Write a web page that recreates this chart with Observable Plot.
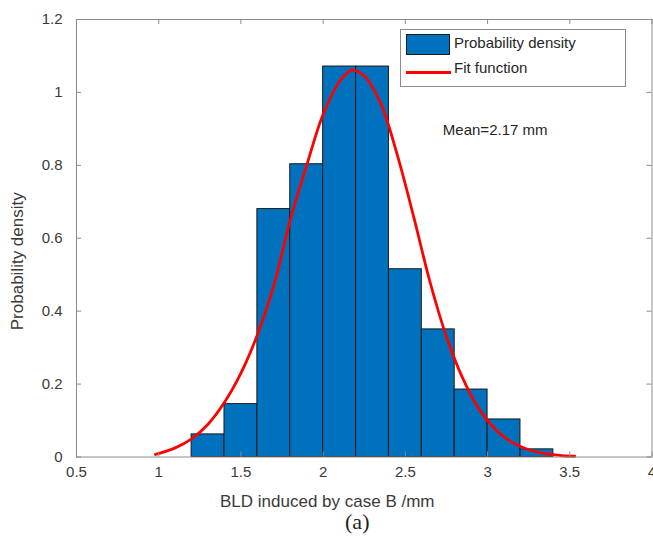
<!DOCTYPE html>
<html>
<head>
<meta charset="utf-8">
<script src="https://cdn.jsdelivr.net/npm/d3@7"></script>
<script src="https://cdn.jsdelivr.net/npm/@observablehq/plot@0.6"></script>
<style>
  html, body { margin: 0; padding: 0; background: #fff; }
  #wrap { position: relative; width: 653px; height: 544px; font-family: "Liberation Sans", Arial, sans-serif; }
  #legend { position: absolute; left: 400px; top: 29px; width: 226px; height: 58px; box-sizing: border-box;
            border: 1px solid #8c8c8c; background: #fff; }
  .lrow { position: absolute; left: 0; height: 22px; width: 100%; }
  .lkey { position: absolute; left: 5px; }
  .ltext { position: absolute; left: 53px; font-size: 15px; color: #262626; white-space: nowrap; }
</style>
</head>
<body>
<div id="wrap"></div>
<script>
// ---- data ----
const binStart = [1.2, 1.4, 1.6, 1.8, 2.0, 2.2, 2.4, 2.6, 2.8, 3.0, 3.2];
const binEnd   = [1.4, 1.6, 1.8, 2.0, 2.2, 2.4, 2.6, 2.8, 3.0, 3.2, 3.4];
const density  = [0.062, 0.145, 0.68, 0.803, 1.071, 1.071, 0.515, 0.350, 0.185, 0.103, 0.021];

const fitX = [0.98, 1.1, 1.2, 1.3, 1.4, 1.5, 1.6, 1.7, 1.8, 1.9, 2.0, 2.1, 2.175, 2.25, 2.35, 2.45, 2.55, 2.65, 2.75, 2.85, 2.95, 3.05, 3.15, 3.25, 3.35, 3.45, 3.53];
const fitY = [0.007, 0.025, 0.05, 0.09, 0.15, 0.23, 0.335, 0.47, 0.65, 0.80, 0.94, 1.03, 1.061, 1.045, 0.97, 0.83, 0.66, 0.48, 0.33, 0.215, 0.13, 0.075, 0.04, 0.02, 0.009, 0.004, 0.002];

const xTicks = [0.5, 1, 1.5, 2, 2.5, 3, 3.5, 4];
const xTickLabels = ["0.5", "1", "1.5", "2", "2.5", "3", "3.5", "4"];
const yTicks = [0, 0.2, 0.4, 0.6, 0.8, 1, 1.2];
const yTickLabels = ["0", "0.2", "0.4", "0.6", "0.8", "1", "1.2"];

const xLabel = "BLD induced by case B /mm";
const yLabel = "Probability density";
const meanText = "Mean=2.17 mm";
const meanPos = {x: 2.728, y: 0.897};
const legendLabels = ["Probability density", "Fit function"];
const caption = "(a)";

// ---- layout ----
const W = 653, H = 544;
const mL = 76, mR = 1.5, mT = 19, mB = 87.5;
const innerW = W - mL - mR, innerH = H - mT - mB;
const tickLen = 5;
const axisColor = "#8c8c8c";
const textColor = "#3a3a3a";
const barColor = "#0072BD";

const bins = binStart.map((s, i) => ({x1: s, x2: binEnd[i], y: density[i]}));
const fit = fitX.map((x, i) => ({x, y: fitY[i]}));

const chart = Plot.plot({
  width: W, height: H,
  marginLeft: mL, marginRight: mR, marginTop: mT, marginBottom: mB,
  style: {fontFamily: "'Liberation Sans', Arial, sans-serif", fontSize: "15px", color: textColor, background: "#fff"},
  x: {domain: [0.5, 4]},
  y: {domain: [0, 1.2]},
  marks: [
    Plot.rectY(bins, {x1: "x1", x2: "x2", y: "y", fill: barColor, stroke: "#1a1a1a", strokeWidth: 1}),
    Plot.line(fit, {x: "x", y: "y", stroke: "#ff0000", strokeWidth: 2.8, curve: "catmull-rom"}),
    Plot.frame({stroke: axisColor, strokeWidth: 1}),
    // inward ticks on all four sides
    Plot.tickX(xTicks, {x: d => d, stroke: axisColor, insetTop: innerH - tickLen}),
    Plot.tickX(xTicks, {x: d => d, stroke: axisColor, insetBottom: innerH - tickLen}),
    Plot.tickY(yTicks, {y: d => d, stroke: axisColor, insetRight: innerW - tickLen}),
    Plot.tickY(yTicks, {y: d => d, stroke: axisColor, insetLeft: innerW - tickLen}),
    Plot.axisX({ticks: xTicks, tickFormat: (d, i) => xTickLabels[i], tickSize: 0, tickPadding: 9, label: null, fontSize: 15, fill: textColor}),
    Plot.axisY({ticks: yTicks, tickFormat: (d, i) => yTickLabels[i], tickSize: 0, tickPadding: 14, label: null, fontSize: 15, fill: textColor}),
    Plot.text([xLabel], {frameAnchor: "bottom", lineAnchor: "middle", textAnchor: "middle", dx: -37, dy: 45, fontSize: 17, fill: textColor, text: d => d}),
    Plot.text([yLabel], {frameAnchor: "left", lineAnchor: "middle", textAnchor: "middle", rotate: -90, dx: -59, dy: 23, fontSize: 17, fill: textColor, text: d => d}),
    Plot.text([meanPos], {x: "x", y: "y", text: () => meanText, textAnchor: "start", fontSize: 15, fill: "#262626"}),
    Plot.text([caption], {frameAnchor: "bottom", lineAnchor: "middle", textAnchor: "middle", dx: -7, dy: 65, fontSize: 22, fontFamily: "'Liberation Serif', 'Times New Roman', serif", fill: "#222", text: d => d})
  ]
});

const wrap = document.getElementById("wrap");
wrap.appendChild(chart);

// legend overlay
const legend = document.createElement("div");
legend.id = "legend";
legend.innerHTML = `
  <div class="lrow" style="top:4px;">
    <div class="lkey" style="top:0;width:44px;height:21px;box-sizing:border-box;background:${barColor};border:1px solid #1a1a1a;"></div>
    <div class="ltext" style="top:0px;">${legendLabels[0]}</div>
  </div>
  <div class="lrow" style="top:30px;">
    <div class="lkey" style="top:11px;width:45px;height:3px;background:#ff0000;"></div>
    <div class="ltext" style="top:-1px;">${legendLabels[1]}</div>
  </div>`;
wrap.appendChild(legend);
</script>
</body>
</html>
